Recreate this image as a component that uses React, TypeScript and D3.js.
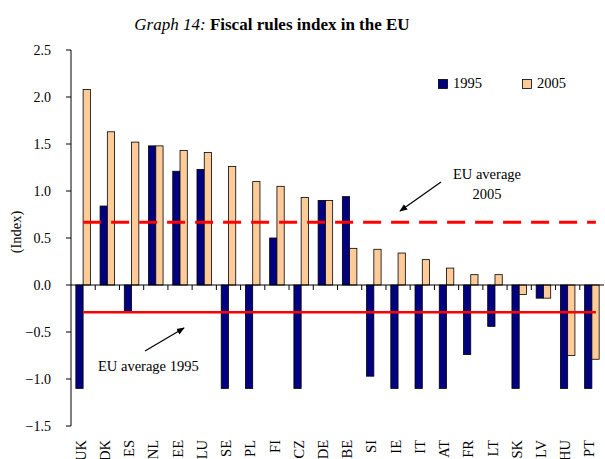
import React from "react";
import * as d3 from "d3";

const categories = ["UK", "DK", "ES", "NL", "EE", "LU", "SE", "PL", "FI", "CZ", "DE", "BE", "SI", "IE", "IT", "AT", "FR", "LT", "SK", "LV", "HU", "PT"];
const values1995 = [-1.1, 0.84, -0.28, 1.48, 1.21, 1.23, -1.1, -1.1, 0.5, -1.1, 0.9, 0.94, -0.97, -1.1, -1.1, -1.1, -0.74, -0.44, -1.1, -0.14, -1.1, -1.1];
const values2005 = [2.08, 1.63, 1.52, 1.48, 1.43, 1.41, 1.26, 1.1, 1.05, 0.93, 0.9, 0.39, 0.38, 0.34, 0.27, 0.18, 0.11, 0.11, -0.1, -0.14, -0.75, -0.79];
const seriesNames = ["1995", "2005"];
const avg1995 = -0.29;
const avg2005 = 0.667;
const yTicks = [2.5, 2.0, 1.5, 1.0, 0.5, 0.0, -0.5, -1.0, -1.5];

const W = 605;
const H = 459;
const FONT = "'Liberation Serif', 'Times New Roman', serif";
const C1995 = "#000080";
const C2005 = "#FFCC99";

export default function App() {
  const x = d3.scaleBand<string>().domain(categories).range([71, 604]).paddingInner(0).paddingOuter(0);
  const y = d3.scaleLinear().domain([-1.5, 2.5]).range([426, 50]);
  const bw = x.bandwidth();
  const barW = bw * 0.3;
  const y0 = y(0);

  const lineX1 = (x(categories[0]) as number) + bw / 2;
  const lineX2 = (x(categories[categories.length - 1]) as number) + bw / 2 + 4;

  return (
    <svg width={W} height={H} style={{ position: "absolute", left: 0, top: 0 }} fontFamily={FONT}>
      <defs>
        <marker id="arr" viewBox="0 0 10 10" refX="9" refY="5" markerWidth="8" markerHeight="8" orient="auto" markerUnits="userSpaceOnUse">
          <path d="M0,1 L10,5 L0,9 Z" fill="#000" />
        </marker>
      </defs>
      <text x={272} y={30} textAnchor="middle" fontSize={17}>
        <tspan fontStyle="italic">Graph 14:</tspan>
        <tspan fontWeight="bold"> Fiscal rules index in the EU</tspan>
      </text>

      {/* bars */}
      {categories.map((c, i) => {
        const bx = (x(c) as number) + bw * 0.2;
        const v1 = values1995[i];
        const v2 = values2005[i];
        return (
          <g key={c}>
            <rect x={bx} y={Math.min(y(v1), y0)} width={barW} height={Math.abs(y(v1) - y0)} fill={C1995} stroke="#000" strokeWidth={0.8} />
            <rect x={bx + barW} y={Math.min(y(v2), y0)} width={barW} height={Math.abs(y(v2) - y0)} fill={C2005} stroke="#000" strokeWidth={0.8} />
          </g>
        );
      })}

      {/* y axis */}
      <line x1={71} x2={71} y1={y(2.5)} y2={y(-1.5)} stroke="#000" strokeWidth={1} />
      {yTicks.map((t) => (
        <g key={t}>
          <line x1={66} x2={71} y1={y(t)} y2={y(t)} stroke="#000" strokeWidth={1} />
          <text x={51} y={y(t)} dy="0.35em" textAnchor="end" fontSize={14}>
            {d3.format(".1f")(t)}
          </text>
        </g>
      ))}
      <text transform={`translate(16,232) rotate(-90)`} textAnchor="middle" dy="0.35em" fontSize={14.5}>
        (Index)
      </text>

      {/* x axis at zero */}
      <line x1={71} x2={604} y1={y0} y2={y0} stroke="#000" strokeWidth={1} />
      {categories.map((c, i) =>
        i === 0 ? null : (
          <line key={"t" + c} x1={x(c) as number} x2={x(c) as number} y1={y0} y2={y0 + 5} stroke="#000" strokeWidth={1} />
        )
      )}
      {categories.map((c) => (
        <text
          key={"l" + c}
          transform={`translate(${(x(c) as number) + bw / 2 - 2.5},440) rotate(-90)`}
          textAnchor="end"
          dy="0.35em"
          fontSize={14.5}
        >
          {c}
        </text>
      ))}

      {/* average lines */}
      <line x1={lineX1} x2={lineX2} y1={y(avg2005)} y2={y(avg2005)} stroke="#FF0000" strokeWidth={3} strokeDasharray="18,10" />
      <line x1={lineX1} x2={lineX2} y1={y(avg1995)} y2={y(avg1995)} stroke="#FF0000" strokeWidth={2.5} />

      {/* legend */}
      <rect x={438.5} y={79.5} width={9} height={9} fill={C1995} stroke="#000" strokeWidth={0.8} />
      <text x={453} y={88} fontSize={14.5}>{seriesNames[0]}</text>
      <rect x={522.5} y={79.5} width={9} height={9} fill={C2005} stroke="#000" strokeWidth={0.8} />
      <text x={537} y={88} fontSize={14.5}>{seriesNames[1]}</text>

      {/* annotations */}
      <text x={487} y={179} textAnchor="middle" fontSize={14.5}>EU average</text>
      <text x={487} y={199} textAnchor="middle" fontSize={14.5}>2005</text>
      <line x1={441} y1={182} x2={400} y2={211} stroke="#000" strokeWidth={1.2} markerEnd="url(#arr)" />

      <text x={98} y={371} fontSize={14.5}>EU average 1995</text>
      <line x1={145} y1={351} x2={184} y2={328} stroke="#000" strokeWidth={1.2} markerEnd="url(#arr)" />
    </svg>
  );
}
